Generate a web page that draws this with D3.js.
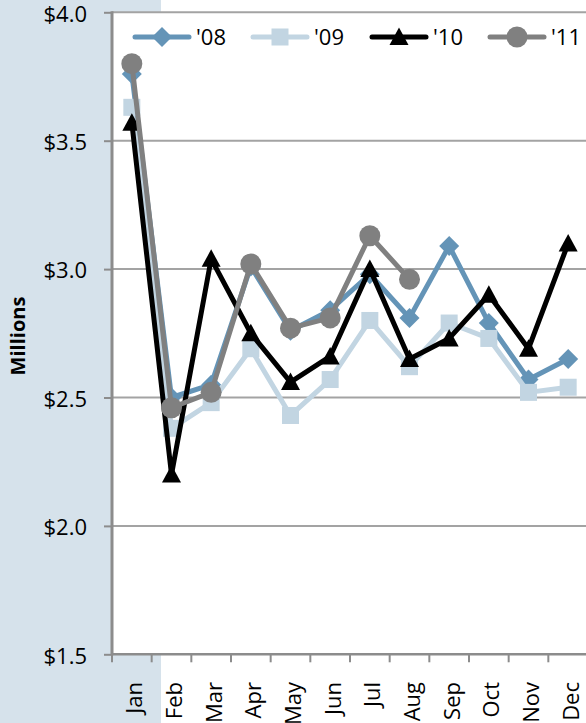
<!DOCTYPE html>
<html><head><meta charset="utf-8">
<script src="https://cdn.jsdelivr.net/npm/d3@7"></script>
<style>html,body{margin:0;padding:0;background:#fff;overflow:hidden}</style>
</head><body>
<svg id="c" width="586" height="723"></svg>
<script>
const months = ["Jan","Feb","Mar","Apr","May","Jun","Jul","Aug","Sep","Oct","Nov","Dec"];
const yTicks = [1.5, 2.0, 2.5, 3.0, 3.5, 4.0];
const seriesNames = ["'08","'09","'10","'11"];
const v08 = [3.76, 2.50, 2.55, 3.01, 2.76, 2.84, 2.98, 2.81, 3.09, 2.79, 2.57, 2.65];
const v09 = [3.63, 2.38, 2.48, 2.69, 2.43, 2.57, 2.80, 2.62, 2.79, 2.73, 2.52, 2.54];
const v10 = [3.57, 2.20, 3.04, 2.75, 2.56, 2.66, 3.00, 2.65, 2.73, 2.90, 2.69, 3.10];
const v11 = [3.80, 2.46, 2.52, 3.02, 2.77, 2.81, 3.13, 2.96];

const series = [
  {name: seriesNames[0], values: v08, color: "#6494b7", marker: "diamond"},
  {name: seriesNames[1], values: v09, color: "#c2d5e2", marker: "square"},
  {name: seriesNames[2], values: v10, color: "#000000", marker: "triangle"},
  {name: seriesNames[3], values: v11, color: "#808080", marker: "circle"}
];

const svg = d3.select("#c");
const font = "'Open Sans', 'Noto Sans', sans-serif";
const L = 112, T = 12.3, R = 588, B = 654.3;

svg.append("rect").attr("x",0).attr("y",0).attr("width",161).attr("height",723).attr("fill","#d6e2eb");
svg.append("rect").attr("x",L).attr("y",T).attr("width",586-L).attr("height",B-T).attr("fill","#fff");

const x = d3.scaleBand().domain(months).range([L, R]);
const y = d3.scaleLinear().domain([1.5, 4.0]).range([B, T]);
const cx = m => x(m) + x.bandwidth()/2;

// gridlines
svg.append("g").selectAll("line").data(yTicks.filter(t => t > 1.5)).join("line")
  .attr("x1", L).attr("x2", 586).attr("y1", d => y(d)).attr("y2", d => y(d))
  .attr("stroke", "#a3a3a3").attr("stroke-width", 2);

// y axis
const yAxis = d3.axisLeft(y).tickValues(yTicks).tickSize(8).tickPadding(17)
  .tickFormat(d => "$" + d3.format(".1f")(d));
const gy = svg.append("g").attr("transform", `translate(${L},0)`).call(yAxis);
gy.select(".domain").remove();
gy.selectAll(".tick line").attr("stroke", "#8c8c8c").attr("stroke-width", 2);
gy.selectAll(".tick text").attr("font-family", font).attr("font-size", 22).attr("fill", "#000").attr("dy", "0.4em");
svg.append("line").attr("x1", L).attr("x2", L).attr("y1", T-1).attr("y2", B+1)
  .attr("stroke", "#8c8c8c").attr("stroke-width", 3);

// x axis
const xAxis = d3.axisBottom(x).tickSize(0).tickFormat("");
const gx = svg.append("g").attr("transform", `translate(0,${B})`).call(xAxis);
gx.select(".domain").remove();
gx.selectAll(".tick").remove();
const bounds = months.map(m => x(m)).concat([R]);
svg.append("g").selectAll("line").data(bounds.slice(0, 12)).join("line")
  .attr("x1", d => d).attr("x2", d => d).attr("y1", B).attr("y2", B + 8)
  .attr("stroke", "#8c8c8c").attr("stroke-width", 2);
svg.append("line").attr("x1", L).attr("x2", 586).attr("y1", B).attr("y2", B)
  .attr("stroke", "#8c8c8c").attr("stroke-width", 2.5);
svg.append("g").selectAll("text").data(months).join("text")
  .attr("transform", d => `translate(${cx(d) + 10.5},682) rotate(-90)`)
  .attr("text-anchor", "end").attr("font-family", font).attr("font-size", 22).attr("fill", "#000")
  .text(d => d);

// y title
svg.append("text").attr("transform", "translate(25,336) rotate(-90)")
  .attr("text-anchor", "middle").attr("font-family", font).attr("font-weight", "bold")
  .attr("font-size", 20).attr("fill", "#000").text("Millions");

function drawMarker(g, type, px, py, color) {
  if (type === "diamond") {
    g.append("path").attr("d", `M${px},${py-10}L${px+10},${py}L${px},${py+10}L${px-10},${py}Z`).attr("fill", color);
  } else if (type === "square") {
    g.append("rect").attr("x", px-8.5).attr("y", py-8.5).attr("width", 17).attr("height", 17).attr("fill", color);
  } else if (type === "triangle") {
    g.append("path").attr("d", `M${px},${py-9.5}L${px+9.5},${py+8}L${px-9.5},${py+8}Z`).attr("fill", color);
  } else {
    g.append("circle").attr("cx", px).attr("cy", py).attr("r", 10.5).attr("fill", color);
  }
}

const line = d3.line().x((d, i) => cx(months[i])).y(d => y(d));
series.forEach(s => {
  const g = svg.append("g");
  g.append("path").attr("d", line(s.values)).attr("fill", "none")
    .attr("stroke", s.color).attr("stroke-width", 5).attr("stroke-linejoin", "round");
  s.values.forEach((v, i) => drawMarker(g, s.marker, cx(months[i]), y(v), s.color));
});

// legend
const legX = [135, 253, 372, 490];
series.forEach((s, i) => {
  const g = svg.append("g");
  const x0 = legX[i], ly = 37;
  g.append("line").attr("x1", x0).attr("x2", x0 + 54).attr("y1", ly).attr("y2", ly)
    .attr("stroke", s.color).attr("stroke-width", 5).attr("stroke-linecap", "round");
  drawMarker(g, s.marker, x0 + 27, ly, s.color);
  g.append("text").attr("x", x0 + 61).attr("y", ly).attr("dy", "0.36em")
    .attr("font-family", font).attr("font-size", 22).attr("fill", "#000").text(s.name);
});
</script>
</body></html>
